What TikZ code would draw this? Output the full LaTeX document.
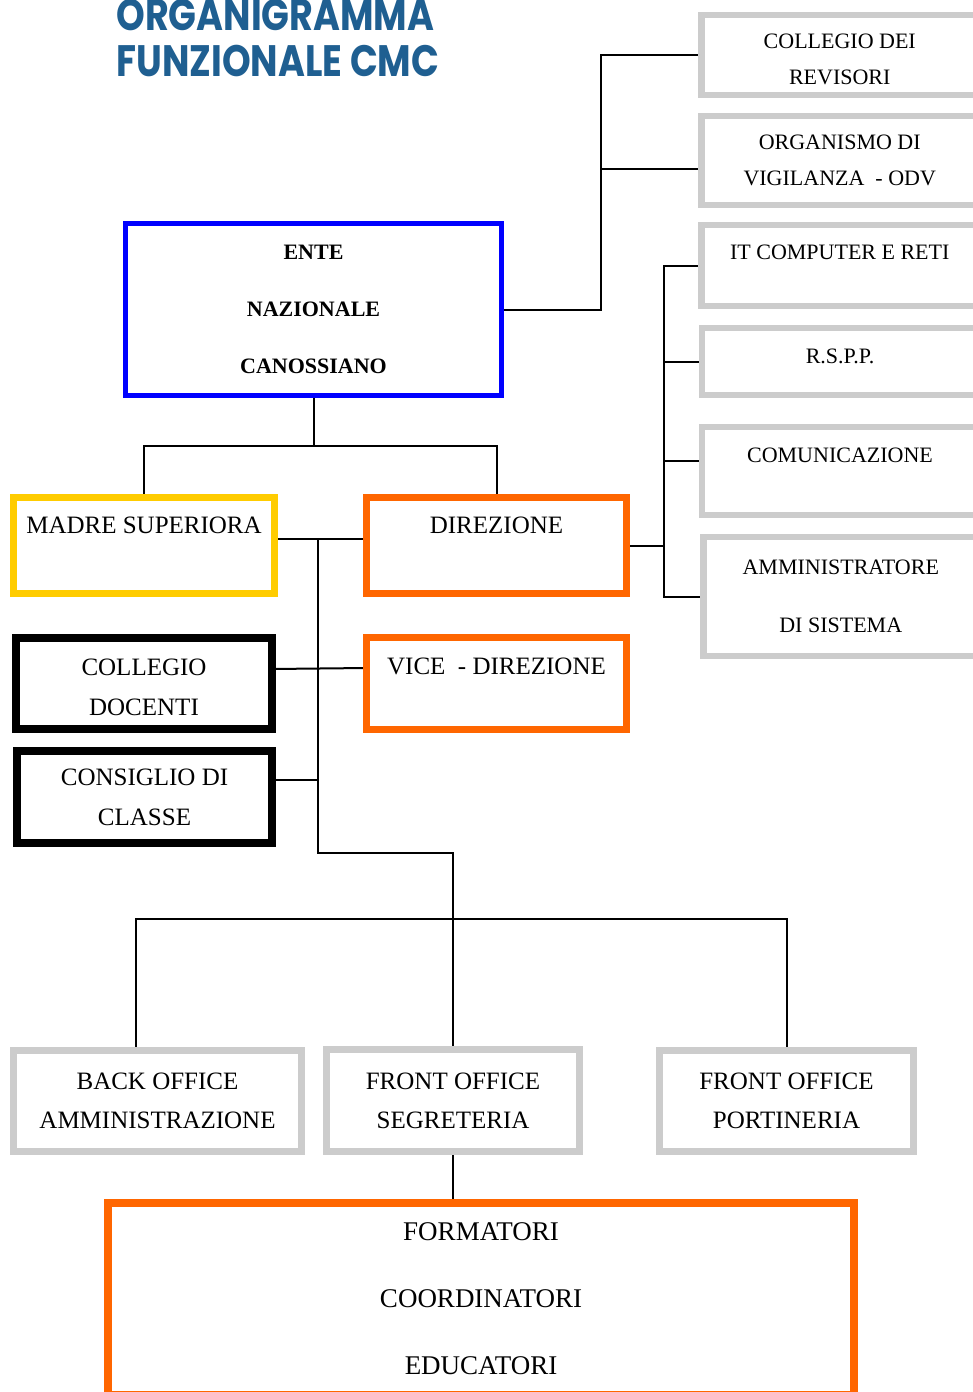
\documentclass[tikz,border=0pt]{standalone}
\usepackage{fontspec}
\setmainfont{Liberation Serif}
\newfontfamily\titlefont{Poppins}[FakeStretch=0.83]
\usetikzlibrary{backgrounds}
\definecolor{cmcblue}{HTML}{1F5F91}
\definecolor{boxgrey}{HTML}{CCCCCC}
\definecolor{enteblue}{HTML}{0000FF}
\definecolor{leadorange}{HTML}{FF6600}
\definecolor{superyellow}{HTML}{FFCC00}

\begin{document}
\begin{tikzpicture}[x=0.5pt, y=-0.5pt,
  box/.style={inner sep=0pt, outer sep=0pt, align=center},
  staffbox/.style={box, draw=boxgrey, line width=3.25pt,
    minimum width=138pt, font=\fontsize{11}{18}\selectfont},
  entebox/.style={box, draw=enteblue, line width=2.5pt,
    font=\fontsize{11}{28.5}\selectfont\bfseries},
  superbox/.style={box, draw=superyellow, line width=3.5pt,
    font=\fontsize{12.5}{20}\selectfont},
  leadbox/.style={box, draw=leadorange, line width=3.5pt,
    font=\fontsize{12.5}{20}\selectfont},
  councilbox/.style={box, draw=black, line width=4pt,
    font=\fontsize{12.5}{20}\selectfont},
  officebox/.style={box, draw=boxgrey, line width=3.5pt,
    font=\fontsize{12.5}{19.5}\selectfont},
  teambox/.style={box, draw=leadorange, line width=4pt,
    font=\fontsize{13.5}{33.5}\selectfont},
  heading/.style={anchor=base west, inner sep=0pt, text=cmcblue,
    font=\titlefont\bfseries\fontsize{22}{22}\selectfont},
  link/.style={line width=1pt, black},
]
\useasboundingbox (0,0) rectangle (973,1392);
% title
\node[heading] (title1) at (116,31) {ORGANIGRAMMA};
\node[heading] (title2) at (116,76) {FUNZIONALE CMC};
% ente
\node[entebox, minimum width=188pt, minimum height=86pt] (ente) at (313.5,309.5)
  {ENTE\\NAZIONALE\\CANOSSIANO};
% organi di controllo e staff
\node[staffbox, minimum width=138.25pt, minimum height=40pt] (rev) at (839.75,55)
  {\rule{0pt}{11.3pt}COLLEGIO DEI\\REVISORI};
\node[staffbox, minimum width=138.25pt, minimum height=44.5pt] (odv) at (839.75,160.5)
  {ORGANISMO DI\\VIGILANZA~~- ODV};
\node[staffbox, minimum width=138.25pt, minimum height=40.5pt] (it) at (839.75,265.5)
  {IT COMPUTER E RETI\\[-4.5pt]~};
\node[staffbox, minimum height=33.5pt] (rspp) at (840,361.5)
  {R.S.P.P.\\[-12.5pt]~};
\node[staffbox, minimum height=44pt] (com) at (840,471)
  {COMUNICAZIONE\\[-2pt]~};
\node[staffbox, minimum width=137.25pt, minimum height=59.5pt, font=\fontsize{11}{29}\selectfont]
  (amm) at (840.75,596.5) {AMMINISTRATORE\\DI SISTEMA};
% vertici
\node[superbox, minimum width=130.5pt, minimum height=48pt] (madre) at (144,545.5)
  {MADRE SUPERIORA\\~};
\node[leadbox, minimum width=130pt, minimum height=48pt] (dir) at (496.5,545.5)
  {DIREZIONE\\~};
\node[leadbox, minimum width=130pt, minimum height=46pt] (vice) at (496.5,683.5)
  {VICE~~- DIREZIONE\\[-2.5pt]~};
% organi collegiali
\node[councilbox, minimum width=128pt, minimum height=45.5pt] (coll) at (144,683.5)
  {\rule{0pt}{12.3pt}COLLEGIO\\DOCENTI};
\node[councilbox, minimum width=127.5pt, minimum height=46pt] (cons) at (144.5,797)
  {CONSIGLIO DI\\CLASSE};
% uffici
\node[officebox, minimum width=144pt, minimum height=50.5pt] (back) at (157.5,1101)
  {BACK OFFICE\\AMMINISTRAZIONE};
\node[officebox, minimum width=126.5pt, minimum height=51pt] (seg) at (453,1100.5)
  {FRONT OFFICE\\SEGRETERIA};
\node[officebox, minimum width=127pt, minimum height=50.5pt] (port) at (786.5,1101)
  {FRONT OFFICE\\PORTINERIA};
% formatori
\node[teambox, minimum width=373pt, minimum height=96pt] (form) at (481,1299)
  {FORMATORI\\COORDINATORI\\EDUCATORI};
% connectors
\begin{scope}[on background layer]
\coordinate (busa) at (601,309.5);
\draw[link] (ente.east) -- (busa) |- (rev.west);
\draw[link] (busa) |- ([yshift=-4.25pt]odv.west);
\coordinate (busb) at (664,545.5);
\draw[link] (dir.east) -- (busb) |- (it.west);
\draw[link] (busb) |- (rspp.west);
\draw[link] (busb) |- ([yshift=5pt]com.west);
\draw[link] (busb) |- (amm.west);
\coordinate (entesplit) at (313.5,446);
\draw[link] (ente.south) -- (entesplit) -| (madre.north);
\draw[link] (entesplit) -| (dir.north);
\coordinate (busc) at (318,539);
\coordinate (busd) at (318,853);
\coordinate (hub) at (453,919);
\draw[link] ([yshift=3.25pt]madre.east) -- ([yshift=3.25pt]dir.west);
\draw[link] (busc) -- (busd) -| (hub);
\draw[link] ([yshift=7.25pt]coll.east) -- ([yshift=7.75pt]vice.west);
\draw[link] ([yshift=8.5pt]cons.east) -- ([yshift=8.5pt]cons.east -| busc);
\draw[link] ([xshift=-10.75pt]back.north) |- (hub) -| (port.north);
\draw[link] (hub) -- (seg.north);
\draw[link] (seg.south) -- (seg.south |- form.north);
\end{scope}
\end{tikzpicture}
\end{document}
